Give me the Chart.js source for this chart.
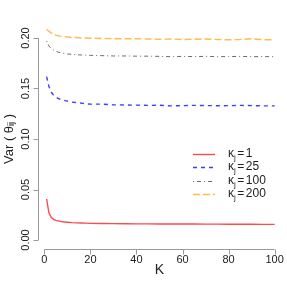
<!DOCTYPE html>
<html lang="en">
  <head>
    <meta charset="UTF-8" />
    <title>Var by K</title>
    <script src="https://cdn.jsdelivr.net/npm/chart.js"></script>
    <style>
      html, body { margin: 0; padding: 0; background: #fff; }
      #wrap { width: 287px; height: 287px; position: relative; }
    </style>
  </head>
  <body>
    <div id="wrap"><canvas id="varChart"></canvas></div>
    <script>
      const kValues = [1, 2, 3, 4, 5, 6, 7, 8, 10, 12, 14, 16, 18, 20, 25, 30, 35, 40, 45, 50, 55, 60, 65, 70, 75, 80, 85, 90, 95, 100];

      const kappa1 = [0.0406, 0.027, 0.0225, 0.0205, 0.0195, 0.019, 0.0185, 0.0181, 0.0176, 0.0172, 0.017, 0.0168, 0.0167, 0.0165, 0.0163, 0.0162, 0.0161, 0.016, 0.016, 0.0159, 0.0158, 0.0158, 0.0158, 0.0157, 0.0157, 0.0156, 0.0156, 0.0156, 0.0155, 0.0155];
      const kappa25 = [0.1617, 0.152, 0.1465, 0.1435, 0.1415, 0.1402, 0.1392, 0.1385, 0.1375, 0.1365, 0.136, 0.1355, 0.1348, 0.1345, 0.1345, 0.1338, 0.1337, 0.1335, 0.1333, 0.1334, 0.1328, 0.133, 0.1333, 0.1331, 0.1329, 0.133, 0.1333, 0.133, 0.1328, 0.1328];
      const kappa100 = [0.197, 0.192, 0.1895, 0.188, 0.187, 0.186, 0.1855, 0.185, 0.1842, 0.1838, 0.1834, 0.1832, 0.183, 0.1828, 0.1825, 0.1822, 0.1822, 0.182, 0.182, 0.1818, 0.1815, 0.1818, 0.1816, 0.1818, 0.1815, 0.1816, 0.1818, 0.1815, 0.1816, 0.1815];
      const kappa200 = [0.2086, 0.2065, 0.205, 0.2035, 0.2028, 0.2022, 0.2018, 0.2015, 0.201, 0.2005, 0.2005, 0.2, 0.2, 0.1998, 0.1995, 0.1993, 0.1992, 0.1993, 0.199, 0.1988, 0.199, 0.1985, 0.1988, 0.199, 0.1985, 0.1982, 0.1985, 0.1992, 0.1983, 0.1982];

      const seriesLabels = ["1", "25", "100", "200"];
      const xTicks = [0, 20, 40, 60, 80, 100];
      const yTicks = [0.0, 0.05, 0.1, 0.15, 0.2];

      const colors = ["#ff4a4a", "#3c3cff", "#6b6b6b", "#ffbb4d"];
      const dashes = [[], [4, 4], [1, 3, 4, 3], [7, 3]];
      const widths = [1.4, 1.4, 1, 1.4];

      const toPoints = (vals) => vals.map((v, i) => ({ x: kValues[i], y: v }));
      const allSeries = [kappa1, kappa25, kappa100, kappa200];

      const FONT = '"Liberation Sans", Arial, sans-serif';
      const AXIS_COLOR = "#9a9a9a";
      const TEXT_COLOR = "#222";

      // R-style axes, labels and legend
      const rAxes = {
        id: "rAxes",
        afterDraw(chart) {
          const ctx = chart.ctx;
          const xs = chart.scales.x;
          const ys = chart.scales.y;
          const ca = chart.chartArea;
          ctx.save();
          ctx.strokeStyle = AXIS_COLOR;
          ctx.lineWidth = 1;
          ctx.setLineDash([]);

          // y axis
          const x0 = Math.round(ca.left) + 0.5;
          ctx.beginPath();
          ctx.moveTo(x0, ys.getPixelForValue(yTicks[0]));
          ctx.lineTo(x0, ys.getPixelForValue(yTicks[yTicks.length - 1]));
          yTicks.forEach((t) => {
            const py = Math.round(ys.getPixelForValue(t)) + 0.5;
            ctx.moveTo(x0, py);
            ctx.lineTo(x0 - 5, py);
          });
          ctx.stroke();

          // x axis
          const y0 = Math.round(ca.bottom) + 0.5;
          ctx.beginPath();
          ctx.moveTo(xs.getPixelForValue(xTicks[0]), y0);
          ctx.lineTo(xs.getPixelForValue(xTicks[xTicks.length - 1]), y0);
          xTicks.forEach((t) => {
            const px = Math.round(xs.getPixelForValue(t)) + 0.5;
            ctx.moveTo(px, y0);
            ctx.lineTo(px, y0 + 5);
          });
          ctx.stroke();

          ctx.fillStyle = TEXT_COLOR;
          ctx.font = "11px " + FONT;
          ctx.textAlign = "center";
          ctx.textBaseline = "middle";
          xTicks.forEach((t) => {
            ctx.fillText(String(t), xs.getPixelForValue(t), y0 + 10);
          });
          yTicks.forEach((t) => {
            ctx.save();
            ctx.translate(x0 - 13, ys.getPixelForValue(t));
            ctx.rotate(-Math.PI / 2);
            ctx.fillText(t.toFixed(2), 0, 0);
            ctx.restore();
          });

          // axis titles
          ctx.font = "14px " + FONT;
          ctx.fillText("K", (xs.getPixelForValue(0) + xs.getPixelForValue(100)) / 2, 270);
          ctx.save();
          ctx.translate(9, (ys.getPixelForValue(0) + ys.getPixelForValue(0.2)) / 2);
          ctx.rotate(-Math.PI / 2);
          ctx.textAlign = "left";
          const parts = [["Var ( \u03b8", 13, 0], ["ij", 9, 3], [" )", 13, 0]];
          let total = 0;
          parts.forEach(([s, sz]) => {
            ctx.font = sz + "px " + FONT;
            total += ctx.measureText(s).width;
          });
          let cx = -total / 2;
          parts.forEach(([s, sz, dy]) => {
            ctx.font = sz + "px " + FONT;
            ctx.fillText(s, cx, dy);
            cx += ctx.measureText(s).width;
          });
          ctx.restore();

          // legend
          const lx0 = 193, lx1 = 215, tx = 228;
          const rowY = [154, 167, 181, 194];
          seriesLabels.forEach((lab, i) => {
            ctx.strokeStyle = colors[i];
            ctx.lineWidth = widths[i];
            ctx.setLineDash(dashes[i]);
            ctx.beginPath();
            ctx.moveTo(lx0, rowY[i] + 0.5);
            ctx.lineTo(lx1, rowY[i] + 0.5);
            ctx.stroke();
            ctx.setLineDash([]);
            ctx.fillStyle = TEXT_COLOR;
            ctx.textAlign = "left";
            ctx.font = "12px " + FONT;
            let px = tx;
            ctx.fillText("\u03ba", px, rowY[i]);
            px += ctx.measureText("\u03ba").width;
            ctx.font = "8px " + FONT;
            ctx.fillText("j", px, rowY[i] + 4);
            px += ctx.measureText("j").width + 1.5;
            ctx.font = "12px " + FONT;
            ctx.fillText("=", px, rowY[i]);
            px += ctx.measureText("=").width + 1.5;
            ctx.fillText(lab, px, rowY[i]);
          });
          ctx.restore();
        },
      };

      const chartCtx = document.getElementById("varChart").getContext("2d");
      const varChart = new Chart(chartCtx, {
        type: "line",
        data: {
          datasets: allSeries.map((vals, i) => ({
            label: "kappa_j = " + seriesLabels[i],
            data: toPoints(vals),
            borderColor: colors[i],
            borderWidth: widths[i],
            borderDash: dashes[i],
            pointRadius: 0,
            fill: false,
            tension: 0,
          })),
        },
        options: {
          responsive: true,
          maintainAspectRatio: false,
          animation: false,
          layout: {
            padding: { left: 37.5, right: 3.2, top: 19.4, bottom: 38.5 },
          },
          plugins: {
            legend: { display: false },
            tooltip: { enabled: false },
          },
          scales: {
            x: { type: "linear", display: false, min: -2.96, max: 103.96 },
            y: { type: "linear", display: false, min: -0.0084, max: 0.2184 },
          },
        },
        plugins: [rAxes],
      });
    </script>
  </body>
</html>
